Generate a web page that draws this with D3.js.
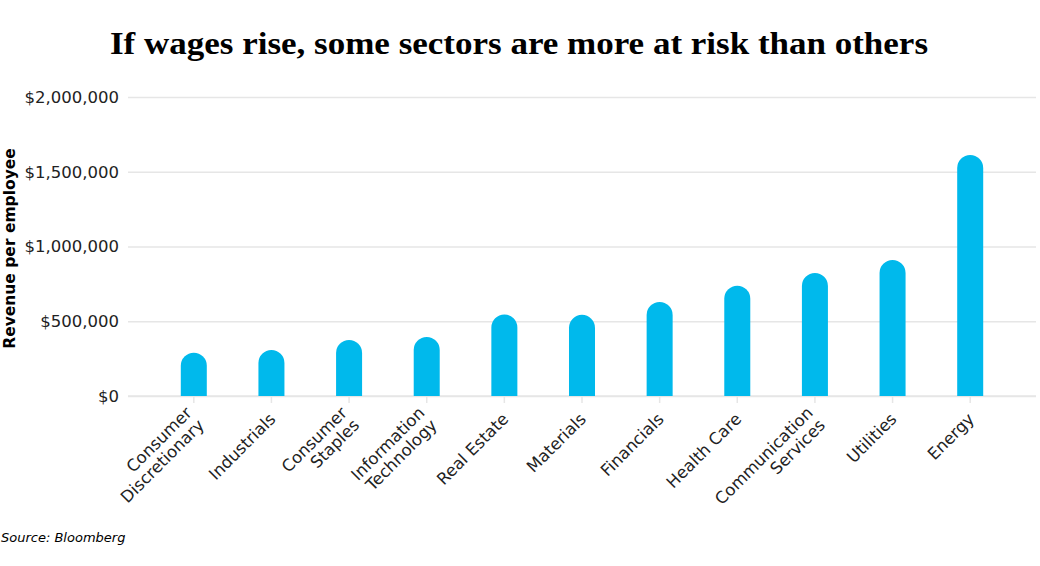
<!DOCTYPE html>
<html>
<head>
<meta charset="utf-8">
<script src="https://cdn.jsdelivr.net/npm/d3@7"></script>
<style>
  html, body { margin: 0; padding: 0; background: #fff; }
  svg { display: block; }
</style>
</head>
<body>
<svg id="chart" width="1040" height="566"></svg>
<script>
const title = "If wages rise, some sectors are more at risk than others";
const yAxisTitle = "Revenue per employee";
const sourceText = "Source: Bloomberg";
const categories = [
  ["Consumer", "Discretionary"],
  ["Industrials"],
  ["Consumer", "Staples"],
  ["Information", "Technology"],
  ["Real Estate"],
  ["Materials"],
  ["Financials"],
  ["Health Care"],
  ["Communication", "Services"],
  ["Utilities"],
  ["Energy"]
];
const values = [290000, 308000, 375000, 395000, 545000, 543000, 629000, 738000, 823000, 910000, 1612000];
const yTicks = [0, 500000, 1000000, 1500000, 2000000];

(function () {
const svg = d3.select("#chart");
const mLeft = 128, mRight = 1036, mTop = 97, mBottom = 396;
const barColor = "#00b9ec";
const gridColor = "#e6e6e6";

const keys = categories.map(c => c.join(" "));
const x = d3.scaleBand().domain(keys).range([mLeft, mRight]).paddingInner(0.665).paddingOuter(0.68);
const y = d3.scaleLinear().domain([0, 2000000]).range([mBottom, mTop]);

// title
svg.append("text")
  .attr("x", 519).attr("y", 54)
  .attr("text-anchor", "middle")
  .attr("font-family", "Liberation Serif, serif")
  .attr("font-weight", "bold")
  .attr("font-size", 32)
  .attr("textLength", 818)
  .attr("lengthAdjust", "spacingAndGlyphs")
  .attr("fill", "#000")
  .text(title);

// gridlines
const yAxis = d3.axisLeft(y).tickValues(yTicks)
  .tickSize(-(mRight - mLeft))
  .tickPadding(10)
  .tickFormat(d => "$" + d3.format(",")(d));
const gy = svg.append("g").attr("transform", `translate(${mLeft},0)`).call(yAxis);
gy.select(".domain").remove();
gy.selectAll(".tick line").attr("stroke", gridColor).attr("stroke-width", 1.5);
gy.selectAll(".tick text")
  .attr("font-family", "DejaVu Sans, sans-serif")
  .attr("font-size", 16.5)
  .attr("fill", "#222")
  .attr("x", -9);

// x axis ticks
const xAxis = d3.axisBottom(x).tickSize(7).tickFormat("");
const gx = svg.append("g").attr("transform", `translate(0,${mBottom})`).call(xAxis);
gx.select(".domain").attr("stroke", gridColor).attr("stroke-width", 1.5)
  .attr("d", `M${mLeft},0H${mRight}`);
gx.selectAll(".tick line").attr("stroke", gridColor).attr("stroke-width", 1.5);

// bars with rounded tops
const bw = x.bandwidth();
const r = bw / 2;
svg.append("g").selectAll("path")
  .data(values)
  .join("path")
  .attr("fill", barColor)
  .attr("d", (v, i) => {
    const x0 = x(keys[i]);
    const yt = y(v);
    const yb = y(0);
    return `M${x0},${yb}V${yt + r}A${r},${r} 0 0 1 ${x0 + bw},${yt + r}V${yb}Z`;
  });

// x labels rotated
const lh = 17.5;
const labels = svg.append("g");
categories.forEach((lines, i) => {
  const cx = x(keys[i]) + bw / 2;
  const t = labels.append("text")
    .attr("transform", `translate(${cx + 1},${mBottom + 20}) rotate(-45)`)
    .attr("text-anchor", "end")
    .attr("font-family", "DejaVu Sans, sans-serif")
    .attr("font-size", 16.5)
    .attr("fill", "#222");
  lines.forEach((ln, j) => {
    t.append("tspan")
      .attr("x", 0)
      .attr("y", (j - (lines.length - 1) / 2) * lh)
      .attr("dy", "0.35em")
      .text(ln);
  });
});

// y axis title
svg.append("text")
  .attr("transform", `translate(15,${(mTop + mBottom) / 2 + 2}) rotate(-90)`)
  .attr("text-anchor", "middle")
  .attr("font-family", "DejaVu Sans, sans-serif")
  .attr("font-weight", "bold")
  .attr("font-size", 15.5)
  .attr("fill", "#000")
  .text(yAxisTitle);

// source
svg.append("text")
  .attr("x", 1).attr("y", 542)
  .attr("font-family", "DejaVu Sans, sans-serif")
  .attr("font-style", "italic")
  .attr("font-size", 13)
  .attr("fill", "#000")
  .text(sourceText);
})();
</script>
</body>
</html>
